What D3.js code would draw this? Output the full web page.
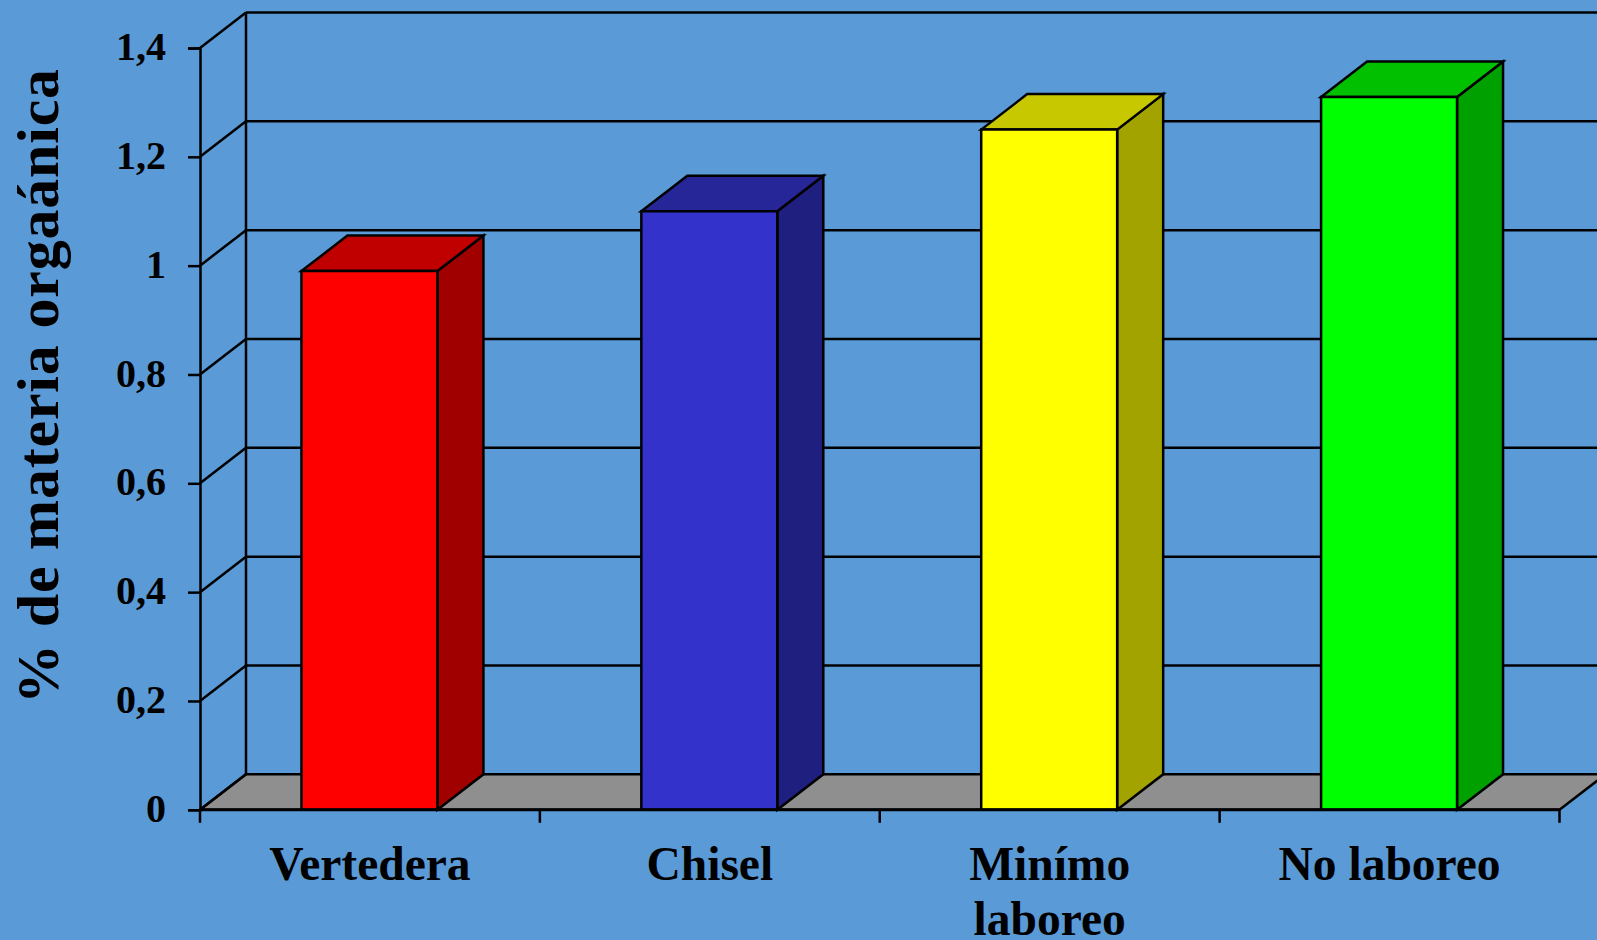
<!DOCTYPE html>
<html><head><meta charset="utf-8">
<script src="https://cdn.jsdelivr.net/npm/d3@7"></script>
<style>html,body{margin:0;padding:0;background:#5a9ad7;overflow:hidden}svg{display:block}text{font-family:"Liberation Serif",serif;font-weight:bold;fill:#000}</style>
</head><body><svg id="c" width="1597" height="940"></svg>
<script>
const categories = [["Vertedera"],["Chisel"],["Minímo","laboreo"],["No laboreo"]];
const values = [0.99,1.10,1.25,1.31];
const frontColors = ["#ff0000","#3333cc","#ffff00","#00ff00"];
const topColors = ["#c00000","#262699","#c8c800","#00c000"];
const sideColors = ["#a00000","#1f1f80","#a3a300","#00a000"];
const yTicks = [0,0.2,0.4,0.6,0.8,1,1.2,1.4];
const yTitle = "% de materia orgaánica";

const svg = d3.select("#c");
const W=1597,H=940, DX=46, DY=35.5, ink="#000", SW=2.5;
svg.append("rect").attr("width",W).attr("height",H).attr("fill","#5a9ad7");
const y = d3.scaleLinear().domain([0,1.4]).range([809.8,48]);
const x = d3.scaleBand().domain(categories.map((d,i)=>i)).range([200,1559.5]).paddingInner(0.6).paddingOuter(0.3);
const left=x.range()[0], right=x.range()[1];
const poly=(pts,f)=>svg.append("polygon").attr("points",pts.map(p=>p.join(",")).join(" ")).attr("fill",f).attr("stroke",ink).attr("stroke-width",SW).attr("stroke-linejoin","miter");
const line=(a,b,w=SW)=>svg.append("line").attr("x1",a[0]).attr("y1",a[1]).attr("x2",b[0]).attr("y2",b[1]).attr("stroke",ink).attr("stroke-width",w);

// floor
poly([[left,y(0)],[right,y(0)],[right+DX,y(0)-DY],[left+DX,y(0)-DY]],"#8f8f8f");
// walls and grid
yTicks.forEach(t=>{
  line([left,y(t)],[left+DX,y(t)-DY]);
  if(t>0) line([left+DX,y(t)-DY],[right+DX+10,y(t)-DY]);
});
line([left+DX,y(1.4)-DY],[left+DX,y(0)-DY]);

// bars
values.forEach((v,i)=>{
  const x0=x(i)-0.5, x1=x0+x.bandwidth(), yt=y(v), yb=y(0);
  poly([[x1,yb],[x1+DX,yb-DY],[x1+DX,yt-DY],[x1,yt]],sideColors[i]);
  poly([[x0,yt],[x0+DX,yt-DY],[x1+DX,yt-DY],[x1,yt]],topColors[i]);
  poly([[x0,yt],[x1,yt],[x1,yb],[x0,yb]],frontColors[i]);
});

// y axis
const gy=svg.append("g").attr("transform",`translate(${left},0)`)
  .call(d3.axisLeft(y).tickValues(yTicks).tickSize(12).tickPadding(22).tickFormat(d=>String(+d.toFixed(1)).replace(".",",")));
gy.selectAll("path,line").attr("stroke",ink).attr("stroke-width",SW);
gy.selectAll("text").attr("font-size",40).attr("fill","#000").attr("dy","0.29em").style("font-family",'"Liberation Serif",serif');

// x axis ticks
const xEdges = d3.range(categories.length+1).map(i=>left+i*x.step());
xEdges.forEach(e=>line([e,y(0)],[e,y(0)+13]));
line([left,y(0)],[right,y(0)],3);

// x labels
categories.forEach((lines,i)=>{
  lines.forEach((s,j)=>{
    svg.append("text").attr("x",x(i)+x.bandwidth()/2).attr("y",880+j*55).attr("text-anchor","middle").attr("font-size",47.5).text(s);
  });
});
// y title
svg.append("text").attr("transform","translate(58,386) rotate(-90)").attr("text-anchor","middle").attr("font-size",60).attr("letter-spacing",0.8).text(yTitle);
</script></body></html>
